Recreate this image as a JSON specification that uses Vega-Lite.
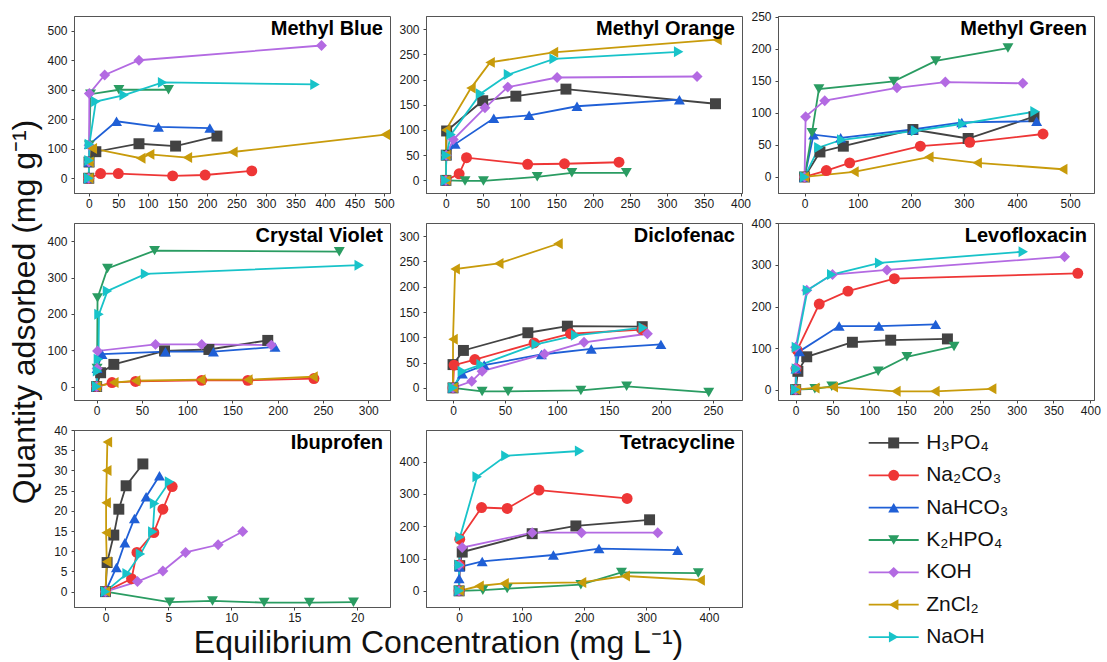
{
 "$schema": "https://vega.github.io/schema/vega-lite/v6.json",
 "padding": {"left": 8, "top": 10, "right": 5, "bottom": 2},
 "background": "white",
 "columns": 3,
 "spacing": {"row": 30, "column": 36},
 "bounds": "flush",
 "data": {"values": [
  {"p":"MB","s":"H3PO4","x":0,"y":0},{"p":"MB","s":"H3PO4","x":0.5,"y":55},{"p":"MB","s":"H3PO4","x":12,"y":90},{"p":"MB","s":"H3PO4","x":85,"y":117},{"p":"MB","s":"H3PO4","x":147,"y":109},{"p":"MB","s":"H3PO4","x":217,"y":143},
  {"p":"MB","s":"Na2CO3","x":0,"y":0},{"p":"MB","s":"Na2CO3","x":20,"y":16},{"p":"MB","s":"Na2CO3","x":50,"y":16},{"p":"MB","s":"Na2CO3","x":142,"y":8},{"p":"MB","s":"Na2CO3","x":197,"y":11},{"p":"MB","s":"Na2CO3","x":276,"y":25},
  {"p":"MB","s":"NaHCO3","x":0,"y":0},{"p":"MB","s":"NaHCO3","x":0.5,"y":55},{"p":"MB","s":"NaHCO3","x":1,"y":115},{"p":"MB","s":"NaHCO3","x":47,"y":193},{"p":"MB","s":"NaHCO3","x":118,"y":174},{"p":"MB","s":"NaHCO3","x":205,"y":170},
  {"p":"MB","s":"K2HPO4","x":0,"y":0},{"p":"MB","s":"K2HPO4","x":0.5,"y":55},{"p":"MB","s":"K2HPO4","x":1,"y":112},{"p":"MB","s":"K2HPO4","x":3,"y":285},{"p":"MB","s":"K2HPO4","x":51,"y":300},{"p":"MB","s":"K2HPO4","x":135,"y":300},
  {"p":"MB","s":"KOH","x":0,"y":0},{"p":"MB","s":"KOH","x":0.3,"y":55},{"p":"MB","s":"KOH","x":0.5,"y":112},{"p":"MB","s":"KOH","x":1,"y":287},{"p":"MB","s":"KOH","x":27,"y":350},{"p":"MB","s":"KOH","x":85,"y":400},{"p":"MB","s":"KOH","x":394,"y":450},
  {"p":"MB","s":"ZnCl2","x":0,"y":0},{"p":"MB","s":"ZnCl2","x":0.5,"y":55},{"p":"MB","s":"ZnCl2","x":6,"y":101},{"p":"MB","s":"ZnCl2","x":88,"y":68},{"p":"MB","s":"ZnCl2","x":103,"y":81},{"p":"MB","s":"ZnCl2","x":167,"y":70},{"p":"MB","s":"ZnCl2","x":244,"y":89},{"p":"MB","s":"ZnCl2","x":502,"y":148},
  {"p":"MB","s":"NaOH","x":0,"y":0},{"p":"MB","s":"NaOH","x":0.5,"y":60},{"p":"MB","s":"NaOH","x":1,"y":115},{"p":"MB","s":"NaOH","x":12,"y":260},{"p":"MB","s":"NaOH","x":60,"y":282},{"p":"MB","s":"NaOH","x":125,"y":325},{"p":"MB","s":"NaOH","x":383,"y":318},

  {"p":"MO","s":"H3PO4","x":0,"y":0},{"p":"MO","s":"H3PO4","x":0.5,"y":50},{"p":"MO","s":"H3PO4","x":1,"y":98},{"p":"MO","s":"H3PO4","x":50,"y":158},{"p":"MO","s":"H3PO4","x":95,"y":167},{"p":"MO","s":"H3PO4","x":163,"y":181},{"p":"MO","s":"H3PO4","x":366,"y":152},
  {"p":"MO","s":"Na2CO3","x":0,"y":0},{"p":"MO","s":"Na2CO3","x":18,"y":13},{"p":"MO","s":"Na2CO3","x":28,"y":45},{"p":"MO","s":"Na2CO3","x":111,"y":32},{"p":"MO","s":"Na2CO3","x":161,"y":33},{"p":"MO","s":"Na2CO3","x":235,"y":36},
  {"p":"MO","s":"NaHCO3","x":0,"y":0},{"p":"MO","s":"NaHCO3","x":0.5,"y":50},{"p":"MO","s":"NaHCO3","x":12.6,"y":72},{"p":"MO","s":"NaHCO3","x":65,"y":123},{"p":"MO","s":"NaHCO3","x":113,"y":129},{"p":"MO","s":"NaHCO3","x":178,"y":147},{"p":"MO","s":"NaHCO3","x":317,"y":160},
  {"p":"MO","s":"K2HPO4","x":0,"y":0},{"p":"MO","s":"K2HPO4","x":26,"y":-1},{"p":"MO","s":"K2HPO4","x":51,"y":-1},{"p":"MO","s":"K2HPO4","x":124,"y":7},{"p":"MO","s":"K2HPO4","x":171,"y":15},{"p":"MO","s":"K2HPO4","x":245,"y":15},
  {"p":"MO","s":"KOH","x":0,"y":0},{"p":"MO","s":"KOH","x":0.5,"y":50},{"p":"MO","s":"KOH","x":10,"y":81},{"p":"MO","s":"KOH","x":53,"y":144},{"p":"MO","s":"KOH","x":84,"y":185},{"p":"MO","s":"KOH","x":151,"y":204},{"p":"MO","s":"KOH","x":341,"y":206},
  {"p":"MO","s":"ZnCl2","x":0,"y":0},{"p":"MO","s":"ZnCl2","x":0,"y":50},{"p":"MO","s":"ZnCl2","x":0,"y":100},{"p":"MO","s":"ZnCl2","x":34,"y":183},{"p":"MO","s":"ZnCl2","x":60,"y":234},{"p":"MO","s":"ZnCl2","x":146,"y":254},{"p":"MO","s":"ZnCl2","x":368,"y":279},
  {"p":"MO","s":"NaOH","x":0,"y":0},{"p":"MO","s":"NaOH","x":0.5,"y":50},{"p":"MO","s":"NaOH","x":7,"y":91},{"p":"MO","s":"NaOH","x":47,"y":172},{"p":"MO","s":"NaOH","x":85,"y":210},{"p":"MO","s":"NaOH","x":147,"y":241},{"p":"MO","s":"NaOH","x":316,"y":255},

  {"p":"MG","s":"H3PO4","x":0,"y":0},{"p":"MG","s":"H3PO4","x":29,"y":39},{"p":"MG","s":"H3PO4","x":73,"y":48},{"p":"MG","s":"H3PO4","x":204,"y":74},{"p":"MG","s":"H3PO4","x":308,"y":60},{"p":"MG","s":"H3PO4","x":432,"y":94},
  {"p":"MG","s":"Na2CO3","x":0,"y":0},{"p":"MG","s":"Na2CO3","x":41,"y":10},{"p":"MG","s":"Na2CO3","x":85,"y":22},{"p":"MG","s":"Na2CO3","x":218,"y":48},{"p":"MG","s":"Na2CO3","x":311,"y":54},{"p":"MG","s":"Na2CO3","x":449,"y":67},
  {"p":"MG","s":"NaHCO3","x":0,"y":0},{"p":"MG","s":"NaHCO3","x":17,"y":66},{"p":"MG","s":"NaHCO3","x":68,"y":61},{"p":"MG","s":"NaHCO3","x":204,"y":74},{"p":"MG","s":"NaHCO3","x":296,"y":85},{"p":"MG","s":"NaHCO3","x":437,"y":87},
  {"p":"MG","s":"K2HPO4","x":0,"y":0},{"p":"MG","s":"K2HPO4","x":14,"y":69},{"p":"MG","s":"K2HPO4","x":27,"y":137},{"p":"MG","s":"K2HPO4","x":168,"y":149},{"p":"MG","s":"K2HPO4","x":247,"y":181},{"p":"MG","s":"K2HPO4","x":383,"y":201},
  {"p":"MG","s":"KOH","x":0,"y":0},{"p":"MG","s":"KOH","x":2,"y":94},{"p":"MG","s":"KOH","x":38,"y":119},{"p":"MG","s":"KOH","x":174,"y":139},{"p":"MG","s":"KOH","x":265,"y":148},{"p":"MG","s":"KOH","x":411,"y":146},
  {"p":"MG","s":"ZnCl2","x":0,"y":0},{"p":"MG","s":"ZnCl2","x":93,"y":8},{"p":"MG","s":"ZnCl2","x":234,"y":31},{"p":"MG","s":"ZnCl2","x":325,"y":22},{"p":"MG","s":"ZnCl2","x":486,"y":12},
  {"p":"MG","s":"NaOH","x":0,"y":0},{"p":"MG","s":"NaOH","x":27,"y":46},{"p":"MG","s":"NaOH","x":70,"y":58},{"p":"MG","s":"NaOH","x":209,"y":72},{"p":"MG","s":"NaOH","x":298,"y":83},{"p":"MG","s":"NaOH","x":434,"y":102},

  {"p":"CV","s":"H3PO4","x":0,"y":0},{"p":"CV","s":"H3PO4","x":4.4,"y":38},{"p":"CV","s":"H3PO4","x":19,"y":61},{"p":"CV","s":"H3PO4","x":75,"y":98},{"p":"CV","s":"H3PO4","x":124,"y":102},{"p":"CV","s":"H3PO4","x":189,"y":127},
  {"p":"CV","s":"Na2CO3","x":0,"y":0},{"p":"CV","s":"Na2CO3","x":17,"y":11},{"p":"CV","s":"Na2CO3","x":43,"y":14},{"p":"CV","s":"Na2CO3","x":116,"y":17},{"p":"CV","s":"Na2CO3","x":167,"y":17},{"p":"CV","s":"Na2CO3","x":240,"y":22},
  {"p":"CV","s":"NaHCO3","x":0,"y":0},{"p":"CV","s":"NaHCO3","x":0.5,"y":50},{"p":"CV","s":"NaHCO3","x":6,"y":89},{"p":"CV","s":"NaHCO3","x":76,"y":96},{"p":"CV","s":"NaHCO3","x":129,"y":96},{"p":"CV","s":"NaHCO3","x":197,"y":109},
  {"p":"CV","s":"K2HPO4","x":0,"y":0},{"p":"CV","s":"K2HPO4","x":0.5,"y":50},{"p":"CV","s":"K2HPO4","x":1,"y":244},{"p":"CV","s":"K2HPO4","x":12,"y":325},{"p":"CV","s":"K2HPO4","x":64,"y":374},{"p":"CV","s":"K2HPO4","x":268,"y":371},
  {"p":"CV","s":"KOH","x":0,"y":0},{"p":"CV","s":"KOH","x":0.5,"y":50},{"p":"CV","s":"KOH","x":1,"y":98},{"p":"CV","s":"KOH","x":65,"y":116},{"p":"CV","s":"KOH","x":116,"y":116},{"p":"CV","s":"KOH","x":193,"y":114},
  {"p":"CV","s":"ZnCl2","x":0,"y":0},{"p":"CV","s":"ZnCl2","x":19,"y":11},{"p":"CV","s":"ZnCl2","x":43,"y":16},{"p":"CV","s":"ZnCl2","x":115,"y":19},{"p":"CV","s":"ZnCl2","x":167,"y":19},{"p":"CV","s":"ZnCl2","x":239,"y":27},
  {"p":"CV","s":"NaOH","x":0,"y":0},{"p":"CV","s":"NaOH","x":1,"y":43},{"p":"CV","s":"NaOH","x":2,"y":75},{"p":"CV","s":"NaOH","x":2.6,"y":199},{"p":"CV","s":"NaOH","x":12,"y":263},{"p":"CV","s":"NaOH","x":54,"y":310},{"p":"CV","s":"NaOH","x":290,"y":334},

  {"p":"DF","s":"H3PO4","x":0,"y":0},{"p":"DF","s":"H3PO4","x":0,"y":46},{"p":"DF","s":"H3PO4","x":10,"y":74},{"p":"DF","s":"H3PO4","x":72,"y":109},{"p":"DF","s":"H3PO4","x":110,"y":122},{"p":"DF","s":"H3PO4","x":182,"y":121},
  {"p":"DF","s":"Na2CO3","x":0,"y":0},{"p":"DF","s":"Na2CO3","x":1,"y":45},{"p":"DF","s":"Na2CO3","x":21,"y":56},{"p":"DF","s":"Na2CO3","x":78,"y":89},{"p":"DF","s":"Na2CO3","x":113,"y":107},{"p":"DF","s":"Na2CO3","x":182,"y":115},
  {"p":"DF","s":"NaHCO3","x":0,"y":0},{"p":"DF","s":"NaHCO3","x":9,"y":28},{"p":"DF","s":"NaHCO3","x":30,"y":45},{"p":"DF","s":"NaHCO3","x":85,"y":66},{"p":"DF","s":"NaHCO3","x":133,"y":77},{"p":"DF","s":"NaHCO3","x":200,"y":86},
  {"p":"DF","s":"K2HPO4","x":0,"y":0},{"p":"DF","s":"K2HPO4","x":28,"y":-7},{"p":"DF","s":"K2HPO4","x":53,"y":-7},{"p":"DF","s":"K2HPO4","x":123,"y":-5},{"p":"DF","s":"K2HPO4","x":167,"y":3},{"p":"DF","s":"K2HPO4","x":246,"y":-9},
  {"p":"DF","s":"KOH","x":0,"y":0},{"p":"DF","s":"KOH","x":18,"y":13},{"p":"DF","s":"KOH","x":28,"y":33},{"p":"DF","s":"KOH","x":88,"y":67},{"p":"DF","s":"KOH","x":126,"y":90},{"p":"DF","s":"KOH","x":187,"y":107},
  {"p":"DF","s":"ZnCl2","x":0,"y":0},{"p":"DF","s":"ZnCl2","x":0,"y":96},{"p":"DF","s":"ZnCl2","x":2,"y":235},{"p":"DF","s":"ZnCl2","x":44,"y":246},{"p":"DF","s":"ZnCl2","x":101,"y":285},
  {"p":"DF","s":"NaOH","x":0,"y":0},{"p":"DF","s":"NaOH","x":9,"y":33},{"p":"DF","s":"NaOH","x":27,"y":46},{"p":"DF","s":"NaOH","x":80,"y":86},{"p":"DF","s":"NaOH","x":118,"y":104},{"p":"DF","s":"NaOH","x":183,"y":119},

  {"p":"LV","s":"H3PO4","x":0,"y":0},{"p":"LV","s":"H3PO4","x":3,"y":44},{"p":"LV","s":"H3PO4","x":15,"y":79},{"p":"LV","s":"H3PO4","x":77,"y":114},{"p":"LV","s":"H3PO4","x":129,"y":119},{"p":"LV","s":"H3PO4","x":206,"y":122},
  {"p":"LV","s":"Na2CO3","x":0,"y":0},{"p":"LV","s":"Na2CO3","x":0.5,"y":50},{"p":"LV","s":"Na2CO3","x":2,"y":95},{"p":"LV","s":"Na2CO3","x":32,"y":206},{"p":"LV","s":"Na2CO3","x":71,"y":237},{"p":"LV","s":"Na2CO3","x":134,"y":267},{"p":"LV","s":"Na2CO3","x":383,"y":280},
  {"p":"LV","s":"NaHCO3","x":0,"y":0},{"p":"LV","s":"NaHCO3","x":0.5,"y":50},{"p":"LV","s":"NaHCO3","x":5,"y":92},{"p":"LV","s":"NaHCO3","x":59,"y":153},{"p":"LV","s":"NaHCO3","x":113,"y":153},{"p":"LV","s":"NaHCO3","x":190,"y":157},
  {"p":"LV","s":"K2HPO4","x":0,"y":0},{"p":"LV","s":"K2HPO4","x":26,"y":2},{"p":"LV","s":"K2HPO4","x":49,"y":8},{"p":"LV","s":"K2HPO4","x":112,"y":44},{"p":"LV","s":"K2HPO4","x":151,"y":79},{"p":"LV","s":"K2HPO4","x":215,"y":104},
  {"p":"LV","s":"KOH","x":0,"y":0},{"p":"LV","s":"KOH","x":0,"y":52},{"p":"LV","s":"KOH","x":0,"y":102},{"p":"LV","s":"KOH","x":15,"y":239},{"p":"LV","s":"KOH","x":50,"y":277},{"p":"LV","s":"KOH","x":124,"y":288},{"p":"LV","s":"KOH","x":365,"y":320},
  {"p":"LV","s":"ZnCl2","x":0,"y":0},{"p":"LV","s":"ZnCl2","x":26,"y":4},{"p":"LV","s":"ZnCl2","x":51,"y":6},{"p":"LV","s":"ZnCl2","x":136,"y":-4},{"p":"LV","s":"ZnCl2","x":189,"y":-4},{"p":"LV","s":"ZnCl2","x":266,"y":2},
  {"p":"LV","s":"NaOH","x":0,"y":0},{"p":"LV","s":"NaOH","x":1,"y":50},{"p":"LV","s":"NaOH","x":1,"y":102},{"p":"LV","s":"NaOH","x":16,"y":239},{"p":"LV","s":"NaOH","x":49,"y":277},{"p":"LV","s":"NaOH","x":114,"y":305},{"p":"LV","s":"NaOH","x":309,"y":332},

  {"p":"IB","s":"H3PO4","x":0,"y":0},{"p":"IB","s":"H3PO4","x":0.13,"y":7.2},{"p":"IB","s":"H3PO4","x":0.66,"y":14},{"p":"IB","s":"H3PO4","x":1.06,"y":20.4},{"p":"IB","s":"H3PO4","x":1.64,"y":26.2},{"p":"IB","s":"H3PO4","x":2.97,"y":31.6},
  {"p":"IB","s":"Na2CO3","x":0,"y":0},{"p":"IB","s":"Na2CO3","x":2.07,"y":3.2},{"p":"IB","s":"Na2CO3","x":2.5,"y":9.7},{"p":"IB","s":"Na2CO3","x":3.84,"y":14.6},{"p":"IB","s":"Na2CO3","x":4.56,"y":20.4},{"p":"IB","s":"Na2CO3","x":5.3,"y":26},
  {"p":"IB","s":"NaHCO3","x":0,"y":0},{"p":"IB","s":"NaHCO3","x":0.87,"y":6},{"p":"IB","s":"NaHCO3","x":1.54,"y":12.1},{"p":"IB","s":"NaHCO3","x":2.3,"y":18.1},{"p":"IB","s":"NaHCO3","x":3.23,"y":23.5},{"p":"IB","s":"NaHCO3","x":4.29,"y":28.7},
  {"p":"IB","s":"K2HPO4","x":0,"y":0},{"p":"IB","s":"K2HPO4","x":5.1,"y":-2.6},{"p":"IB","s":"K2HPO4","x":8.5,"y":-2.3},{"p":"IB","s":"K2HPO4","x":12.6,"y":-2.7},{"p":"IB","s":"K2HPO4","x":16.2,"y":-2.7},{"p":"IB","s":"K2HPO4","x":19.7,"y":-2.6},
  {"p":"IB","s":"KOH","x":0,"y":0},{"p":"IB","s":"KOH","x":2.54,"y":2.5},{"p":"IB","s":"KOH","x":4.56,"y":5.1},{"p":"IB","s":"KOH","x":6.36,"y":9.7},{"p":"IB","s":"KOH","x":8.95,"y":11.6},{"p":"IB","s":"KOH","x":10.9,"y":14.9},
  {"p":"IB","s":"ZnCl2","x":0,"y":0},{"p":"IB","s":"ZnCl2","x":0.1,"y":7.4},{"p":"IB","s":"ZnCl2","x":0.05,"y":14.6},{"p":"IB","s":"ZnCl2","x":0.05,"y":22},{"p":"IB","s":"ZnCl2","x":0.1,"y":30},{"p":"IB","s":"ZnCl2","x":0.15,"y":37},
  {"p":"IB","s":"NaOH","x":0,"y":0},{"p":"IB","s":"NaOH","x":1.72,"y":4.5},{"p":"IB","s":"NaOH","x":2.78,"y":9.3},{"p":"IB","s":"NaOH","x":3.76,"y":14.8},{"p":"IB","s":"NaOH","x":3.9,"y":21.8},{"p":"IB","s":"NaOH","x":5.09,"y":27.2},

  {"p":"TC","s":"H3PO4","x":0,"y":0},{"p":"TC","s":"H3PO4","x":1,"y":78},{"p":"TC","s":"H3PO4","x":5,"y":120},{"p":"TC","s":"H3PO4","x":117,"y":177},{"p":"TC","s":"H3PO4","x":187,"y":201},{"p":"TC","s":"H3PO4","x":305,"y":220},
  {"p":"TC","s":"Na2CO3","x":0,"y":0},{"p":"TC","s":"Na2CO3","x":0.5,"y":80},{"p":"TC","s":"Na2CO3","x":1,"y":160},{"p":"TC","s":"Na2CO3","x":36,"y":258},{"p":"TC","s":"Na2CO3","x":77,"y":255},{"p":"TC","s":"Na2CO3","x":128,"y":312},{"p":"TC","s":"Na2CO3","x":269,"y":286},
  {"p":"TC","s":"NaHCO3","x":0,"y":0},{"p":"TC","s":"NaHCO3","x":0,"y":38},{"p":"TC","s":"NaHCO3","x":1,"y":74},{"p":"TC","s":"NaHCO3","x":37,"y":91},{"p":"TC","s":"NaHCO3","x":151,"y":111},{"p":"TC","s":"NaHCO3","x":224,"y":131},{"p":"TC","s":"NaHCO3","x":350,"y":126},
  {"p":"TC","s":"K2HPO4","x":0,"y":0},{"p":"TC","s":"K2HPO4","x":38,"y":2},{"p":"TC","s":"K2HPO4","x":77,"y":7},{"p":"TC","s":"K2HPO4","x":195,"y":19},{"p":"TC","s":"K2HPO4","x":260,"y":57},{"p":"TC","s":"K2HPO4","x":383,"y":55},
  {"p":"TC","s":"KOH","x":0,"y":0},{"p":"TC","s":"KOH","x":0,"y":79},{"p":"TC","s":"KOH","x":5,"y":134},{"p":"TC","s":"KOH","x":117,"y":180},{"p":"TC","s":"KOH","x":196,"y":180},{"p":"TC","s":"KOH","x":318,"y":180},
  {"p":"TC","s":"ZnCl2","x":0,"y":0},{"p":"TC","s":"ZnCl2","x":32,"y":15},{"p":"TC","s":"ZnCl2","x":72,"y":23},{"p":"TC","s":"ZnCl2","x":196,"y":26},{"p":"TC","s":"ZnCl2","x":266,"y":46},{"p":"TC","s":"ZnCl2","x":386,"y":33},
  {"p":"TC","s":"NaOH","x":0,"y":0},{"p":"TC","s":"NaOH","x":0,"y":80},{"p":"TC","s":"NaOH","x":1.5,"y":167},{"p":"TC","s":"NaOH","x":29,"y":353},{"p":"TC","s":"NaOH","x":75,"y":418},{"p":"TC","s":"NaOH","x":193,"y":433}
 ]},
 "concat": [
  {"width":316,"height":177,
   "encoding":{
    "x":{"field":"x","type":"quantitative","scale":{"domain":[-25,510],"nice":false,"zero":false},"axis":{"values":[0,50,100,150,200,250,300,350,400,450,500],"title":null}},
    "y":{"field":"y","type":"quantitative","scale":{"domain":[-50,550],"nice":false,"zero":false},"axis":{"values":[0,100,200,300,400,500],"title":null}}},
   "layer":[
    {"transform":[{"filter":"datum.p==='MB'"}],"mark":{"type":"line"},"encoding":{"order":{"value":null},"color":{"field":"s","type":"nominal","scale":{"domain":["H3PO4","Na2CO3","NaHCO3","K2HPO4","KOH","ZnCl2","NaOH"],"range":["#434343","#ee3636","#1f5fd6","#2a9c62","#b36ae2","#c89b0b","#18c3c9"]},"legend":null}}},
    {"transform":[{"filter":"datum.p==='MB'"}],"mark":{"type":"point"},"encoding":{"color":{"field":"s","type":"nominal","legend":null},"shape":{"field":"s","type":"nominal","scale":{"domain":["H3PO4","Na2CO3","NaHCO3","K2HPO4","KOH","ZnCl2","NaOH"],"range":["square","circle","triangle-up","triangle-down","diamond","triangle-left","triangle-right"]},"legend":null}}},
    {"transform":[{"filter":"datum.p==='MB'"},{"aggregate":[{"op":"max","field":"x","as":"x"},{"op":"max","field":"y","as":"y"}]}],"mark":{"type":"text","align":"right","baseline":"top","dx":-7,"dy":3,"fontSize":20,"fontWeight":"bold","color":"#000"},"encoding":{"x":{"datum":510,"type":"quantitative"},"y":{"datum":550,"type":"quantitative"},"text":{"value":"Methyl Blue"}}}
   ]},
  {"width":316,"height":177,
   "encoding":{
    "x":{"field":"x","type":"quantitative","scale":{"domain":[-27,402],"nice":false,"zero":false},"axis":{"values":[0,50,100,150,200,250,300,350,400],"title":null}},
    "y":{"field":"y","type":"quantitative","scale":{"domain":[-25,326],"nice":false,"zero":false},"axis":{"values":[0,50,100,150,200,250,300],"title":null}}},
   "layer":[
    {"transform":[{"filter":"datum.p==='MO'"}],"mark":{"type":"line"},"encoding":{"order":{"value":null},"color":{"field":"s","type":"nominal","scale":{"domain":["H3PO4","Na2CO3","NaHCO3","K2HPO4","KOH","ZnCl2","NaOH"],"range":["#434343","#ee3636","#1f5fd6","#2a9c62","#b36ae2","#c89b0b","#18c3c9"]},"legend":null}}},
    {"transform":[{"filter":"datum.p==='MO'"}],"mark":{"type":"point"},"encoding":{"color":{"field":"s","type":"nominal","legend":null},"shape":{"field":"s","type":"nominal","scale":{"domain":["H3PO4","Na2CO3","NaHCO3","K2HPO4","KOH","ZnCl2","NaOH"],"range":["square","circle","triangle-up","triangle-down","diamond","triangle-left","triangle-right"]},"legend":null}}},
    {"transform":[{"filter":"datum.p==='MO'"},{"aggregate":[{"op":"max","field":"x","as":"x"},{"op":"max","field":"y","as":"y"}]}],"mark":{"type":"text","align":"right","baseline":"top","dx":-7,"dy":3,"fontSize":20,"fontWeight":"bold","color":"#000"},"encoding":{"x":{"datum":402,"type":"quantitative"},"y":{"datum":326,"type":"quantitative"},"text":{"value":"Methyl Orange"}}}
   ]},
  {"width":316,"height":177,
   "encoding":{
    "x":{"field":"x","type":"quantitative","scale":{"domain":[-50,545],"nice":false,"zero":false},"axis":{"values":[0,100,200,300,400,500],"title":null}},
    "y":{"field":"y","type":"quantitative","scale":{"domain":[-25,251],"nice":false,"zero":false},"axis":{"values":[0,50,100,150,200,250],"title":null}}},
   "layer":[
    {"transform":[{"filter":"datum.p==='MG'"}],"mark":{"type":"line"},"encoding":{"order":{"value":null},"color":{"field":"s","type":"nominal","scale":{"domain":["H3PO4","Na2CO3","NaHCO3","K2HPO4","KOH","ZnCl2","NaOH"],"range":["#434343","#ee3636","#1f5fd6","#2a9c62","#b36ae2","#c89b0b","#18c3c9"]},"legend":null}}},
    {"transform":[{"filter":"datum.p==='MG'"}],"mark":{"type":"point"},"encoding":{"color":{"field":"s","type":"nominal","legend":null},"shape":{"field":"s","type":"nominal","scale":{"domain":["H3PO4","Na2CO3","NaHCO3","K2HPO4","KOH","ZnCl2","NaOH"],"range":["square","circle","triangle-up","triangle-down","diamond","triangle-left","triangle-right"]},"legend":null}}},
    {"transform":[{"filter":"datum.p==='MG'"},{"aggregate":[{"op":"max","field":"x","as":"x"},{"op":"max","field":"y","as":"y"}]}],"mark":{"type":"text","align":"right","baseline":"top","dx":-7,"dy":3,"fontSize":20,"fontWeight":"bold","color":"#000"},"encoding":{"x":{"datum":545,"type":"quantitative"},"y":{"datum":251,"type":"quantitative"},"text":{"value":"Methyl Green"}}}
   ]},
  {"width":316,"height":177,
   "encoding":{
    "x":{"field":"x","type":"quantitative","scale":{"domain":[-25,324],"nice":false,"zero":false},"axis":{"values":[0,50,100,150,200,250,300],"title":null}},
    "y":{"field":"y","type":"quantitative","scale":{"domain":[-37,450],"nice":false,"zero":false},"axis":{"values":[0,100,200,300,400],"title":"Quantity adsorbed (mg g\u207b\u00b9)","titlePadding":5}}},
   "layer":[
    {"transform":[{"filter":"datum.p==='CV'"}],"mark":{"type":"line"},"encoding":{"order":{"value":null},"color":{"field":"s","type":"nominal","scale":{"domain":["H3PO4","Na2CO3","NaHCO3","K2HPO4","KOH","ZnCl2","NaOH"],"range":["#434343","#ee3636","#1f5fd6","#2a9c62","#b36ae2","#c89b0b","#18c3c9"]},"legend":null}}},
    {"transform":[{"filter":"datum.p==='CV'"}],"mark":{"type":"point"},"encoding":{"color":{"field":"s","type":"nominal","legend":null},"shape":{"field":"s","type":"nominal","scale":{"domain":["H3PO4","Na2CO3","NaHCO3","K2HPO4","KOH","ZnCl2","NaOH"],"range":["square","circle","triangle-up","triangle-down","diamond","triangle-left","triangle-right"]},"legend":null}}},
    {"transform":[{"filter":"datum.p==='CV'"},{"aggregate":[{"op":"max","field":"x","as":"x"},{"op":"max","field":"y","as":"y"}]}],"mark":{"type":"text","align":"right","baseline":"top","dx":-7,"dy":3,"fontSize":20,"fontWeight":"bold","color":"#000"},"encoding":{"x":{"datum":324,"type":"quantitative"},"y":{"datum":450,"type":"quantitative"},"text":{"value":"Crystal Violet"}}}
   ]},
  {"width":316,"height":177,
   "encoding":{
    "x":{"field":"x","type":"quantitative","scale":{"domain":[-26,278],"nice":false,"zero":false},"axis":{"values":[0,50,100,150,200,250],"title":null}},
    "y":{"field":"y","type":"quantitative","scale":{"domain":[-24,326],"nice":false,"zero":false},"axis":{"values":[0,50,100,150,200,250,300],"title":null}}},
   "layer":[
    {"transform":[{"filter":"datum.p==='DF'"}],"mark":{"type":"line"},"encoding":{"order":{"value":null},"color":{"field":"s","type":"nominal","scale":{"domain":["H3PO4","Na2CO3","NaHCO3","K2HPO4","KOH","ZnCl2","NaOH"],"range":["#434343","#ee3636","#1f5fd6","#2a9c62","#b36ae2","#c89b0b","#18c3c9"]},"legend":null}}},
    {"transform":[{"filter":"datum.p==='DF'"}],"mark":{"type":"point"},"encoding":{"color":{"field":"s","type":"nominal","legend":null},"shape":{"field":"s","type":"nominal","scale":{"domain":["H3PO4","Na2CO3","NaHCO3","K2HPO4","KOH","ZnCl2","NaOH"],"range":["square","circle","triangle-up","triangle-down","diamond","triangle-left","triangle-right"]},"legend":null}}},
    {"transform":[{"filter":"datum.p==='DF'"},{"aggregate":[{"op":"max","field":"x","as":"x"},{"op":"max","field":"y","as":"y"}]}],"mark":{"type":"text","align":"right","baseline":"top","dx":-7,"dy":3,"fontSize":20,"fontWeight":"bold","color":"#000"},"encoding":{"x":{"datum":278,"type":"quantitative"},"y":{"datum":326,"type":"quantitative"},"text":{"value":"Diclofenac"}}}
   ]},
  {"width":316,"height":177,
   "encoding":{
    "x":{"field":"x","type":"quantitative","scale":{"domain":[-24,405],"nice":false,"zero":false},"axis":{"values":[0,50,100,150,200,250,300,350,400],"title":null}},
    "y":{"field":"y","type":"quantitative","scale":{"domain":[-25,401],"nice":false,"zero":false},"axis":{"values":[0,100,200,300,400],"title":null}}},
   "layer":[
    {"transform":[{"filter":"datum.p==='LV'"}],"mark":{"type":"line"},"encoding":{"order":{"value":null},"color":{"field":"s","type":"nominal","scale":{"domain":["H3PO4","Na2CO3","NaHCO3","K2HPO4","KOH","ZnCl2","NaOH"],"range":["#434343","#ee3636","#1f5fd6","#2a9c62","#b36ae2","#c89b0b","#18c3c9"]},"legend":null}}},
    {"transform":[{"filter":"datum.p==='LV'"}],"mark":{"type":"point"},"encoding":{"color":{"field":"s","type":"nominal","legend":null},"shape":{"field":"s","type":"nominal","scale":{"domain":["H3PO4","Na2CO3","NaHCO3","K2HPO4","KOH","ZnCl2","NaOH"],"range":["square","circle","triangle-up","triangle-down","diamond","triangle-left","triangle-right"]},"legend":null}}},
    {"transform":[{"filter":"datum.p==='LV'"},{"aggregate":[{"op":"max","field":"x","as":"x"},{"op":"max","field":"y","as":"y"}]}],"mark":{"type":"text","align":"right","baseline":"top","dx":-7,"dy":3,"fontSize":20,"fontWeight":"bold","color":"#000"},"encoding":{"x":{"datum":405,"type":"quantitative"},"y":{"datum":401,"type":"quantitative"},"text":{"value":"Levofloxacin"}}}
   ]},
  {"width":316,"height":177,
   "encoding":{
    "x":{"field":"x","type":"quantitative","scale":{"domain":[-2.5,22.6],"nice":false,"zero":false},"axis":{"values":[0,5,10,15,20],"title":null}},
    "y":{"field":"y","type":"quantitative","scale":{"domain":[-3.8,40],"nice":false,"zero":false},"axis":{"values":[0,5,10,15,20,25,30,35,40],"title":null}}},
   "layer":[
    {"transform":[{"filter":"datum.p==='IB'"}],"mark":{"type":"line"},"encoding":{"order":{"value":null},"color":{"field":"s","type":"nominal","scale":{"domain":["H3PO4","Na2CO3","NaHCO3","K2HPO4","KOH","ZnCl2","NaOH"],"range":["#434343","#ee3636","#1f5fd6","#2a9c62","#b36ae2","#c89b0b","#18c3c9"]},"legend":null}}},
    {"transform":[{"filter":"datum.p==='IB'"}],"mark":{"type":"point"},"encoding":{"color":{"field":"s","type":"nominal","legend":null},"shape":{"field":"s","type":"nominal","scale":{"domain":["H3PO4","Na2CO3","NaHCO3","K2HPO4","KOH","ZnCl2","NaOH"],"range":["square","circle","triangle-up","triangle-down","diamond","triangle-left","triangle-right"]},"legend":null}}},
    {"transform":[{"filter":"datum.p==='IB'"},{"aggregate":[{"op":"max","field":"x","as":"x"},{"op":"max","field":"y","as":"y"}]}],"mark":{"type":"text","align":"right","baseline":"top","dx":-7,"dy":3,"fontSize":20,"fontWeight":"bold","color":"#000"},"encoding":{"x":{"datum":22.6,"type":"quantitative"},"y":{"datum":40,"type":"quantitative"},"text":{"value":"Ibuprofen"}}}
   ]},
  {"width":316,"height":177,
   "encoding":{
    "x":{"field":"x","type":"quantitative","scale":{"domain":[-53,453],"nice":false,"zero":false},"axis":{"values":[0,100,200,300,400],"title":"Equilibrium Concentration (mg L\u207b\u00b9)","titleX":12,"titlePadding":4}},
    "y":{"field":"y","type":"quantitative","scale":{"domain":[-50,498],"nice":false,"zero":false},"axis":{"values":[0,100,200,300,400,500],"title":null}}},
   "layer":[
    {"transform":[{"filter":"datum.p==='TC'"}],"mark":{"type":"line"},"encoding":{"order":{"value":null},"color":{"field":"s","type":"nominal","scale":{"domain":["H3PO4","Na2CO3","NaHCO3","K2HPO4","KOH","ZnCl2","NaOH"],"range":["#434343","#ee3636","#1f5fd6","#2a9c62","#b36ae2","#c89b0b","#18c3c9"]},"legend":null}}},
    {"transform":[{"filter":"datum.p==='TC'"}],"mark":{"type":"point"},"encoding":{"color":{"field":"s","type":"nominal","legend":null},"shape":{"field":"s","type":"nominal","scale":{"domain":["H3PO4","Na2CO3","NaHCO3","K2HPO4","KOH","ZnCl2","NaOH"],"range":["square","circle","triangle-up","triangle-down","diamond","triangle-left","triangle-right"]},"legend":null}}},
    {"transform":[{"filter":"datum.p==='TC'"},{"aggregate":[{"op":"max","field":"x","as":"x"},{"op":"max","field":"y","as":"y"}]}],"mark":{"type":"text","align":"right","baseline":"top","dx":-7,"dy":3,"fontSize":20,"fontWeight":"bold","color":"#000"},"encoding":{"x":{"datum":453,"type":"quantitative"},"y":{"datum":498,"type":"quantitative"},"text":{"value":"Tetracycline"}}}
   ]},
  {"width":316,"height":220,"view":{"stroke":null},
   "data":{"values":[
    {"s":"H3PO4","t":"H\u2083PO\u2084"},{"s":"Na2CO3","t":"Na\u2082CO\u2083"},{"s":"NaHCO3","t":"NaHCO\u2083"},{"s":"K2HPO4","t":"K\u2082HPO\u2084"},{"s":"KOH","t":"KOH"},{"s":"ZnCl2","t":"ZnCl\u2082"},{"s":"NaOH","t":"NaOH"}]},
   "encoding":{
    "y":{"field":"s","type":"nominal","scale":{"type":"point","domain":["H3PO4","Na2CO3","NaHCO3","K2HPO4","KOH","ZnCl2","NaOH"],"padding":0.4},"axis":null}},
   "layer":[
    {"mark":{"type":"rule","strokeWidth":1.8},"encoding":{"x":{"datum":0,"type":"quantitative","scale":{"domain":[-1.814,4.506],"nice":false,"zero":false},"axis":null},"x2":{"datum":1},"color":{"field":"s","type":"nominal","scale":{"domain":["H3PO4","Na2CO3","NaHCO3","K2HPO4","KOH","ZnCl2","NaOH"],"range":["#434343","#ee3636","#1f5fd6","#2a9c62","#b36ae2","#c89b0b","#18c3c9"]},"legend":null}}},
    {"mark":{"type":"point"},"encoding":{"x":{"datum":0.5,"type":"quantitative"},"color":{"field":"s","type":"nominal","legend":null},"shape":{"field":"s","type":"nominal","scale":{"domain":["H3PO4","Na2CO3","NaHCO3","K2HPO4","KOH","ZnCl2","NaOH"],"range":["square","circle","triangle-up","triangle-down","diamond","triangle-left","triangle-right"]},"legend":null}}},
    {"mark":{"type":"text","align":"left","baseline":"middle","fontSize":21,"color":"#111"},"encoding":{"x":{"datum":1.15,"type":"quantitative"},"text":{"field":"t"}}}
   ]}
 ],
 "config": {
  "font": "Liberation Sans",
  "view": {"stroke": "#555", "strokeWidth": 1},
  "axis": {"grid": false, "labelFontSize": 12, "labelColor": "#1a1a1a", "tickSize": 3, "tickColor": "#444", "domainColor": "#555", "labelFlush": false, "labelOverlap": false, "titleFontWeight": "normal", "titleColor": "#111", "titleFontSize": 32},
  "axisX": {"labelPadding": 2},
  "axisY": {"labelPadding": 4},
  "line": {"strokeWidth": 1.8},
  "point": {"filled": true, "size": 120, "opacity": 1}
 }
}
